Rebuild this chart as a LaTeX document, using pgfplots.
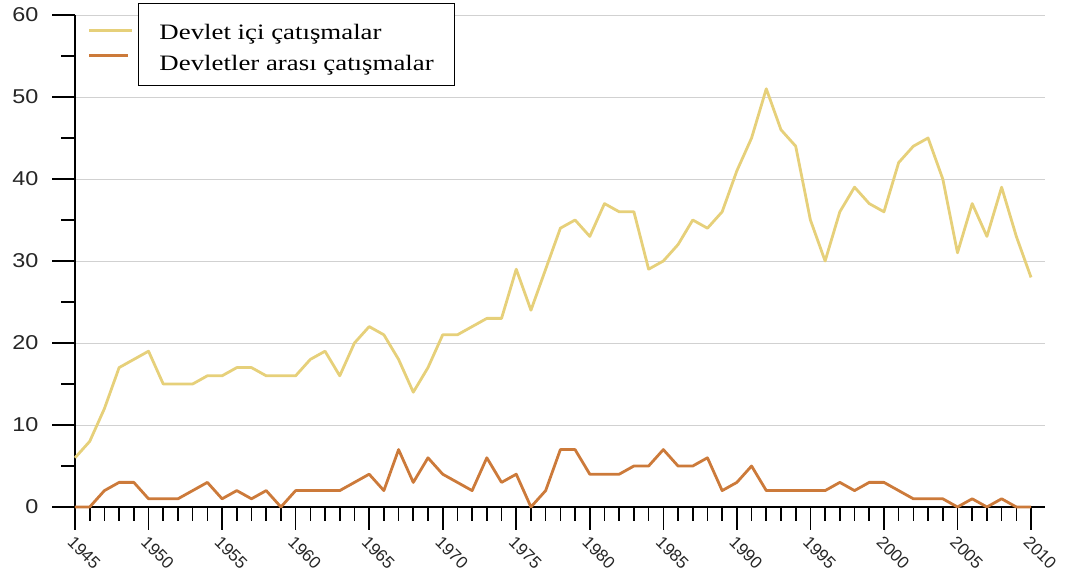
\documentclass[border=0pt]{standalone}
\usepackage{fontspec}
\setmainfont{Liberation Sans}
\newfontfamily\seriffont[FakeStretch=1.22]{Liberation Serif}
\newfontfamily\tickfont[FakeStretch=1.17]{Liberation Sans}
\usepackage{pgfplots}
\pgfplotsset{compat=1.18}
\definecolor{intra}{HTML}{E6D07A}
\definecolor{inter}{HTML}{CC7A3A}
\pgfplotstableread{
year v
1945 6
1946 8
1947 12
1948 17
1949 18
1950 19
1951 15
1952 15
1953 15
1954 16
1955 16
1956 17
1957 17
1958 16
1959 16
1960 16
1961 18
1962 19
1963 16
1964 20
1965 22
1966 21
1967 18
1968 14
1969 17
1970 21
1971 21
1972 22
1973 23
1974 23
1975 29
1976 24
1977 29
1978 34
1979 35
1980 33
1981 37
1982 36
1983 36
1984 29
1985 30
1986 32
1987 35
1988 34
1989 36
1990 41
1991 45
1992 51
1993 46
1994 44
1995 35
1996 30
1997 36
1998 39
1999 37
2000 36
2001 42
2002 44
2003 45
2004 40
2005 31
2006 37
2007 33
2008 39
2009 33
2010 28
}\intratable
\pgfplotstableread{
year v
1945 0
1946 0
1947 2
1948 3
1949 3
1950 1
1951 1
1952 1
1953 2
1954 3
1955 1
1956 2
1957 1
1958 2
1959 0
1960 2
1961 2
1962 2
1963 2
1964 3
1965 4
1966 2
1967 7
1968 3
1969 6
1970 4
1971 3
1972 2
1973 6
1974 3
1975 4
1976 0
1977 2
1978 7
1979 7
1980 4
1981 4
1982 4
1983 5
1984 5
1985 7
1986 5
1987 5
1988 6
1989 2
1990 3
1991 5
1992 2
1993 2
1994 2
1995 2
1996 2
1997 3
1998 2
1999 3
2000 3
2001 2
2002 1
2003 1
2004 1
2005 0
2006 1
2007 0
2008 1
2009 0
2010 0
}\intertable
\begin{document}
\begin{tikzpicture}
\begin{axis}[
  scale only axis, width=970pt, height=492pt,
  xmin=1945, xmax=2010.95, ymin=0, ymax=60,
  axis lines*=left,
  axis line style={line width=1.6pt, black},
  xtick distance=5, minor x tick num=4,
  ytick distance=10, minor y tick num=1,
  tick align=outside,
  major tick length=23pt, minor tick length=14pt,
  tick style={line width=1.6pt, black},
  ymajorgrids, grid style={line width=0.8pt, black!18},
  /pgf/number format/assume math mode=true,
  /pgf/number format/1000 sep={},
  /pgfplots/yticklabel style={font=\tickfont\fontsize{20}{24}\selectfont, xshift=-10pt, text=black!85},
  /pgfplots/xticklabel style={font=\fontsize{17}{20}\selectfont, rotate=-45, anchor=north west, text=black!85},
  /pgfplots/clip=false,
  /pgfplots/legend cell align=left,
  /pgfplots/legend style={at={(rel axis cs:0,1)}, anchor=north west, xshift=63pt, yshift=12pt,
    draw=black, line width=1pt, font=\seriffont\fontsize{22}{26}\selectfont,
    inner xsep=21pt, inner ysep=10pt, row sep=0.4pt, column sep=0pt,
    nodes={inner sep=0pt, text height=26pt, text depth=5pt}},
]
\addplot[intra, line width=2.8pt, line join=round, mark=none,
  legend image code/.code={\draw[intra, overlay, line width=3pt] (-70pt,-2pt) -- (-27pt,-2pt);}]
  table[x=year, y=v] {\intratable};
\addplot[inter, line width=2.8pt, line join=round, mark=none,
  legend image code/.code={\draw[inter, overlay, line width=3pt] (-70pt,5pt) -- (-31pt,5pt);}]
  table[x=year, y=v] {\intertable};
\legend{Devlet içi çatışmalar, Devletler arası çatışmalar\hspace{22pt}}
\coordinate (bbsw) at ([xshift=-75pt,yshift=-71pt]rel axis cs:0,0);
\coordinate (bbne) at ([xshift=29pt,yshift=15pt]rel axis cs:1,1);
\end{axis}
\pgfresetboundingbox
\path (bbsw) rectangle (bbne);
\end{tikzpicture}
\end{document}
